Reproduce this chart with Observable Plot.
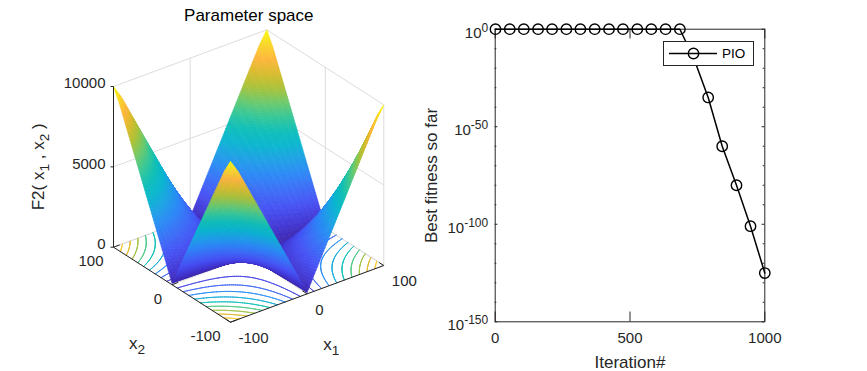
<!DOCTYPE html>
<html>
<head>
<meta charset="utf-8">
<script src="https://cdn.jsdelivr.net/npm/d3@7"></script>
<script src="https://cdn.jsdelivr.net/npm/@observablehq/plot@0.6"></script>
<style>
  html, body { margin: 0; padding: 0; background: #fff; }
  #chart { position: relative; width: 867px; height: 371px; display: flex; font-family: "Liberation Sans", Arial, sans-serif; overflow: hidden; }
  #legend { position: absolute; left: 663px; top: 41px; width: 89px; height: 23px; background: #fff; border: 1px solid #262626; display: flex; align-items: center; }
  #legend svg { display: block; flex: none; }
  #legend span { font-size: 13.5px; color: #000; margin-left: 1px; }
</style>
</head>
<body>
<div id="chart"></div>
<script>
// ---- Left panel data: F2 surface, one quadrant (|x1| rows, |x2| columns), mirrored in the axes
const absGrid = [0, 10, 20, 30, 40, 50, 60, 70, 80, 90, 100];
const surfaceZ = [
  [0, 10, 20, 30, 40, 50, 60, 70, 80, 90, 100],
  [10, 120, 230, 340, 450, 560, 670, 780, 890, 1000, 1110],
  [20, 230, 440, 650, 860, 1070, 1280, 1490, 1700, 1910, 2120],
  [30, 340, 650, 960, 1270, 1580, 1890, 2200, 2510, 2820, 3130],
  [40, 450, 860, 1270, 1680, 2090, 2500, 2910, 3320, 3730, 4140],
  [50, 560, 1070, 1580, 2090, 2600, 3110, 3620, 4130, 4640, 5150],
  [60, 670, 1280, 1890, 2500, 3110, 3720, 4330, 4940, 5550, 6160],
  [70, 780, 1490, 2200, 2910, 3620, 4330, 5040, 5750, 6460, 7170],
  [80, 890, 1700, 2510, 3320, 4130, 4940, 5750, 6560, 7370, 8180],
  [90, 1000, 1910, 2820, 3730, 4640, 5550, 6460, 7370, 8280, 9190],
  [100, 1110, 2120, 3130, 4140, 5150, 6160, 7170, 8180, 9190, 10000]
];
const contourLevels = [1000, 2000, 3000, 4000, 5000, 6000, 7000, 8000, 9000, 10000];
const xTicks3d = [-100, 0, 100];
const zTicks3d = [0, 5000, 10000];
const parula = ["#3e26a8", "#4339d6", "#4752f4", "#3d6cf7", "#2d87f7", "#1fa0e6", "#0bb6cf", "#10bfb8", "#37c897", "#70c96a", "#abc239", "#d8bc2e", "#fdb63c", "#f8d52a", "#f9fb14"];

// ---- Right panel data
const iterations = [1, 54, 106, 159, 211, 264, 316, 369, 422, 474, 527, 579, 632, 685, 737, 790, 842, 895, 947, 1000];
const bestFitness = [1, 1, 1, 1, 1, 1, 1, 1, 1, 1, 1, 1, 1, 1, 1e-15, 1e-35, 1e-60, 1e-80, 1e-101, 1e-125];
const seriesName = "PIO";
const xTicks = [0, 500, 1000];
const yExponents = [0, -50, -100, -150];
const yMinorExponents = [-10, -20, -30, -40, -60, -70, -80, -90, -110, -120, -130, -140];

const ink = "#262626";
const fontSize = 15;
const labelSize = 17;

// ---- View of the 3D box (orthographic, az -37.5 el 30) in screen units of the left plot
const view = { x0: 230, y0: 321.7, xx: 153.3, xy: -56.7, yx: -117, yy: -75, zy: -160.7 };
const project = (a, b, z) => {
  const u = (a + 100) / 200, v = (b + 100) / 200, w = Math.min(z, 10000) / 10000;
  return [view.x0 + u * view.xx + v * view.yx, view.y0 + u * view.xy + v * view.yy + w * view.zy];
};
const depth = (a, b, z) => -0.527 * (a + 100) / 200 - 0.687 * (b + 100) / 200 + 0.5 * Math.min(z, 10000) / 10000;

// Surface height between table nodes: each cell of the table is a bilinear patch
const zAt = (a, b) => {
  const p = Math.abs(a) / 10, q = Math.abs(b) / 10;
  const i = Math.min(Math.floor(p + 1e-9), absGrid.length - 2), j = Math.min(Math.floor(q + 1e-9), absGrid.length - 2);
  const f = p - i, g = q - j;
  return (1 - f) * (1 - g) * surfaceZ[i][j] + f * (1 - g) * surfaceZ[i + 1][j] + (1 - f) * g * surfaceZ[i][j + 1] + f * g * surfaceZ[i + 1][j + 1];
};

const N = 120;
const fine = d3.range(N + 1).map(i => -100 + 200 * i / N);
const quads = [];
for (let i = 0; i < N; i++) for (let j = 0; j < N; j++) {
  const corners = [[fine[i], fine[j]], [fine[i + 1], fine[j]], [fine[i + 1], fine[j + 1]], [fine[i], fine[j + 1]]].map(([a, b]) => [a, b, zAt(a, b)]);
  const a = d3.mean(corners, c => c[0]), b = d3.mean(corners, c => c[1]), v = d3.mean(corners, c => c[2]);
  quads.push({ corners, v, d: depth(a, b, v) });
}
quads.sort((p, q) => p.d - q.d);
const surfaceRows = [];
quads.forEach((quad, id) => {
  for (const c of [...quad.corners, quad.corners[0]]) {
    const [x, y] = project(c[0], c[1], c[2]);
    surfaceRows.push({ x, y, v: quad.v, id });
  }
});

// Contours on the floor plane, marching squares over the same cells
const contourSegs = [];
const M = 160;
const cfine = d3.range(M + 1).map(i => -100 + 200 * i / M);
for (const level of contourLevels) {
  for (let i = 0; i < M; i++) for (let j = 0; j < M; j++) {
    const c = [[cfine[i], cfine[j]], [cfine[i + 1], cfine[j]], [cfine[i + 1], cfine[j + 1]], [cfine[i], cfine[j + 1]]];
    const v = c.map(([a, b]) => zAt(a, b));
    const hits = [];
    for (let k = 0; k < 4; k++) {
      const n = (k + 1) % 4;
      if ((v[k] < level) !== (v[n] < level)) {
        const t = (level - v[k]) / (v[n] - v[k]);
        hits.push(project(c[k][0] + t * (c[n][0] - c[k][0]), c[k][1] + t * (c[n][1] - c[k][1]), 0));
      }
    }
    if (hits.length === 2) contourSegs.push({ x1: hits[0][0], y1: hits[0][1], x2: hits[1][0], y2: hits[1][1], level });
  }
}

const seg = (p, q) => { const [x1, y1] = project(...p), [x2, y2] = project(...q); return { x1, y1, x2, y2 }; };
const gridSegs = [];
for (const z of zTicks3d) {
  gridSegs.push(seg([-100, 100, z], [100, 100, z]), seg([100, -100, z], [100, 100, z]));
}
for (const t of xTicks3d) {
  gridSegs.push(seg([t, 100, 0], [t, 100, 10000]), seg([100, t, 0], [100, t, 10000]));
  gridSegs.push(seg([t, -100, 0], [t, 100, 0]), seg([-100, t, 0], [100, t, 0]));
}
const axisSegs = [
  seg([-100, 100, 0], [-100, 100, 10000]),
  seg([-100, -100, 0], [100, -100, 0]),
  seg([-100, -100, 0], [-100, 100, 0])
];
for (const t of xTicks3d) {
  axisSegs.push(seg([t, -100, 0], [t, -92, 0]), seg([-100, t, 0], [-92, t, 0]));
}
const pt = (a, b, z, text) => { const [x, y] = project(a, b, z); return { x, y, text }; };

const textOpts = { x: "x", y: "y", text: "text", fill: ink, fontSize };
const labelOpts = { ...textOpts, fontSize: labelSize };

const leftWidth = 420;
const left = Plot.plot({
  width: leftWidth, height: 371, margin: 0,
  x: { domain: [0, leftWidth], range: [0, leftWidth], axis: null },
  y: { domain: [0, 371], range: [0, 371], axis: null },
  color: { type: "linear", domain: [0, 10000], interpolate: d3.piecewise(d3.interpolateRgb, parula), clamp: true },
  style: { fontFamily: "Liberation Sans, Arial, sans-serif", background: "transparent" },
  marks: [
    Plot.link(gridSegs, { x1: "x1", y1: "y1", x2: "x2", y2: "y2", stroke: "#dcdcdc", strokeWidth: 1 }),
    Plot.link(contourSegs, { x1: "x1", y1: "y1", x2: "x2", y2: "y2", stroke: "level", strokeWidth: 0.9, strokeLinecap: "round" }),
    Plot.line(surfaceRows, { x: "x", y: "y", z: "id", fill: "v", stroke: "v", strokeWidth: 0.6, strokeLinejoin: "round" }),
    Plot.link(axisSegs, { x1: "x1", y1: "y1", x2: "x2", y2: "y2", stroke: ink, strokeWidth: 1 }),
    Plot.link(zTicks3d.map(z => pt(-100, 100, z, "")), { x1: "x", x2: d => d.x - 3, y1: "y", y2: "y", stroke: ink, strokeWidth: 1 }),
    Plot.text(zTicks3d.map(z => pt(-100, 100, z, String(z))), { ...textOpts, textAnchor: "end", dx: -8, dy: -3 }),
    Plot.text(xTicks3d.map(t => pt(t, -100, 0, String(t))), { ...textOpts, textAnchor: "start", dx: 8, dy: 16 }),
    Plot.text(xTicks3d.map(t => pt(-100, t, 0, String(t))), { ...textOpts, textAnchor: "end", dx: -10, dy: 14 }),
    Plot.text([pt(0, -100, 0, "x_{1}")], { ...labelOpts, textAnchor: "start", dx: 16, dy: 51 }),
    Plot.text([pt(-100, 0, 0, "x_{2}")], { ...labelOpts, textAnchor: "start", dx: -43, dy: 59 }),
    Plot.text([pt(-100, 100, 5000, "F2( x_{1} , x_{2} )")], { ...labelOpts, rotate: -90, dx: -75 }),
    Plot.text([pt(100, 100, 10000, "Parameter space")], { ...labelOpts, fill: "#000", dx: -18, dy: -14 })
  ]
});

const fitnessRows = iterations.map((x, i) => ({ x, y: bestFitness[i] }));
const pow = e => Math.pow(10, e);
const majors = yExponents.map(pow), minors = yMinorExponents.map(pow);

const rightWidth = 867 - leftWidth;
const right = Plot.plot({
  width: rightWidth, height: 371,
  marginLeft: 494.7 - leftWidth, marginRight: 102.7, marginTop: 28.7, marginBottom: 49.7,
  x: { domain: [0, 1000], axis: null },
  y: { type: "log", domain: [1e-150, 1e0], axis: null },
  style: { fontFamily: "Liberation Sans, Arial, sans-serif", fontSize: fontSize + "px", color: ink, background: "transparent" },
  marks: [
    Plot.axisX({ ticks: xTicks, tickSize: 0, tickPadding: 11, tickFormat: d => String(d), label: null }),
    Plot.axisY({ ticks: majors, tickSize: 0, tickPadding: 7, dy: 3.5, tickFormat: d => `10^{${Math.round(Math.log10(d))}}`, label: null }),
    Plot.text(["Iteration#"], { text: d => d, frameAnchor: "bottom", lineAnchor: "middle", dy: 40.4, fontSize: labelSize, fill: ink }),
    Plot.text(["Best fitness so far"], { text: d => d, frameAnchor: "left", textAnchor: "middle", lineAnchor: "middle", rotate: -90, dx: -63.7, fontSize: labelSize, fill: ink }),
    Plot.frame({ stroke: ink, strokeWidth: 1 }),
    Plot.ruleY(majors, { x1: 0, x2: 10, stroke: ink }),
    Plot.ruleY(majors, { x1: 990, x2: 1000, stroke: ink }),
    Plot.ruleY(minors, { x1: 0, x2: 6, stroke: ink }),
    Plot.ruleY(minors, { x1: 994, x2: 1000, stroke: ink }),
    Plot.ruleX(xTicks, { y1: 1e-150, y2: 1e-145, stroke: ink }),
    Plot.ruleX(xTicks, { y1: 1e0, y2: 1e-5, stroke: ink }),
    Plot.line(fitnessRows, { x: "x", y: "y", stroke: "#000", strokeWidth: 1.5 }),
    Plot.dot(fitnessRows, { x: "x", y: "y", r: 5.2, stroke: "#000", strokeWidth: 1.4, fill: "none" })
  ]
});

// Turn x_{1} and 10^{-50} notation into real sub/superscript tspans
function richText(svg) {
  d3.select(svg).selectAll("text").each(function () {
    const node = this;
    if (!/[_^]\{/.test(node.textContent)) return;
    const source = node.textContent;
    while (node.firstChild) node.removeChild(node.firstChild);
    const parts = source.split(/([_^]\{[^}]*\})/).filter(s => s !== "");
    let shift = 0;
    for (const part of parts) {
      const m = part.match(/^([_^])\{([^}]*)\}$/);
      const t = document.createElementNS("http://www.w3.org/2000/svg", "tspan");
      const next = m ? (m[1] === "_" ? 5 : -6) : 0;
      if (next !== shift) t.setAttribute("dy", next - shift);
      shift = next;
      if (m) t.style.fontSize = "0.8em";
      t.textContent = m ? m[2] : part;
      node.appendChild(t);
    }
  });
}
richText(left);
richText(right);

const chart = document.getElementById("chart");
chart.append(left, right);

const legend = document.createElement("div");
legend.id = "legend";
legend.innerHTML = `<svg width="57" height="23"><line x1="5" x2="53" y1="11.5" y2="11.5" stroke="#000" stroke-width="1.5"></line><circle cx="29.5" cy="11.5" r="5.2" fill="none" stroke="#000" stroke-width="1.4"></circle></svg><span>${seriesName}</span>`;
chart.append(legend);
</script>
</body>
</html>
